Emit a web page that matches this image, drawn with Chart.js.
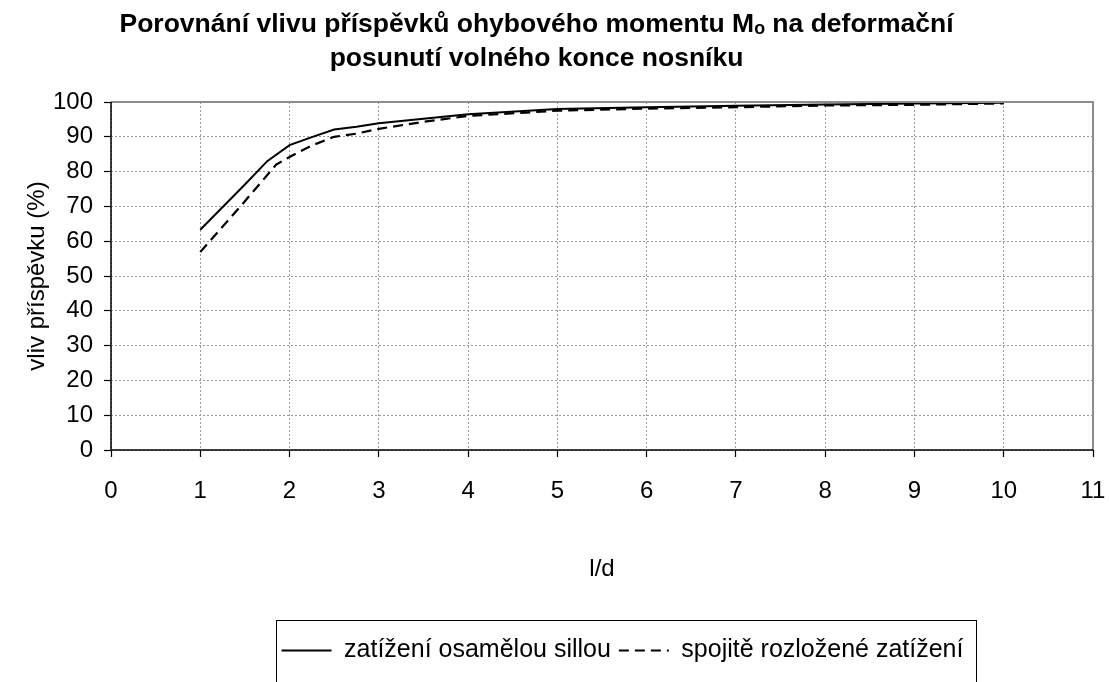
<!DOCTYPE html>
<html>
<head>
<meta charset="utf-8">
<script src="https://cdn.jsdelivr.net/npm/chart.js@4"></script>
<style>
html,body{margin:0;padding:0;background:#fff;}
#wrap{width:1109px;height:682px;}
</style>
</head>
<body>
<div id="wrap"><canvas id="c" width="1109" height="682"></canvas></div>
<script>
const titleLines = ['Porovnání vlivu příspěvků ohybového momentu Mₒ na deformační', 'posunutí volného konce nosníku'];
const xAxisTitle = 'l/d';
const yAxisTitle = 'vliv příspěvku (%)';
const seriesNames = ['zatížení osamělou sillou', 'spojitě rozložené zatížení'];

const solidX = [1, 1.5, 1.75, 2, 2.25, 2.5, 2.75, 3, 3.5, 4, 5, 6, 7, 8, 9, 10];
const solidY = [63.3, 76.3, 83.0, 87.6, 89.9, 92.1, 92.9, 93.9, 95.2, 96.5, 98.0, 98.5, 98.9, 99.3, 99.6, 99.8];
const dashedX = [1, 1.5, 1.85, 2, 2.25, 2.5, 2.75, 3, 3.5, 4, 5, 6, 7, 8, 9, 10];
const dashedY = [56.9, 71.5, 82.0, 84.2, 87.5, 90.0, 90.9, 92.3, 94.3, 96.0, 97.5, 98.1, 98.5, 99.0, 99.2, 99.6];
const dashPattern = [10, 6];

const xMin = 0, xMax = 11, xStep = 1;
const yMin = 0, yMax = 100, yStep = 10;

const FONT = "'Liberation Sans', Arial, 'DejaVu Sans', sans-serif";

const frame = {
  id: 'frame',
  afterLayout(chart) {
    if (chart.titleBlock) { chart.titleBlock.left -= 10; chart.titleBlock.right -= 10; }
    if (chart.legend) { chart.legend.left += 76; chart.legend.right += 76; }
  },
  afterDatasetsDraw(chart) {
    const {ctx, chartArea: a} = chart;
    ctx.save();
    ctx.setLineDash([]);
    ctx.lineWidth = 2;
    ctx.strokeStyle = '#8c8c8c';
    ctx.beginPath();
    ctx.moveTo(a.left, a.top); ctx.lineTo(a.right, a.top); ctx.lineTo(a.right, a.bottom);
    ctx.stroke();
    ctx.lineWidth = 1.5;
    ctx.strokeStyle = '#000';
    ctx.beginPath();
    ctx.moveTo(a.left, a.top); ctx.lineTo(a.left, a.bottom); ctx.lineTo(a.right, a.bottom);
    ctx.stroke();
    ctx.restore();
  },
  afterDraw(chart) {
    const lg = chart.legend;
    if (!lg || !lg.legendHitBoxes || !lg.legendHitBoxes.length) return;
    const hb = lg.legendHitBoxes;
    const l = Math.min(...hb.map(h => h.left)) - 6;
    const r = Math.max(...hb.map(h => h.left + h.width)) + 12;
    const cy = hb[0].top + hb[0].height / 2;
    const ctx = chart.ctx;
    ctx.save();
    ctx.setLineDash([]);
    ctx.lineWidth = 1;
    ctx.strokeStyle = '#000';
    ctx.strokeRect(Math.round(l) + 0.5, Math.round(cy - 31) + 0.5, Math.round(r - l), 80);
    ctx.restore();
  }
};

new Chart(document.getElementById('c'), {
  type: 'line',
  data: {
    datasets: [
      {
        label: seriesNames[0],
        data: solidX.map((x, i) => ({x, y: solidY[i]})),
        borderColor: '#000',
        backgroundColor: 'rgba(0,0,0,0)',
        borderWidth: 2,
        pointRadius: 0,
        pointStyle: 'line',
        tension: 0,
        fill: false
      },
      {
        label: seriesNames[1],
        data: dashedX.map((x, i) => ({x, y: dashedY[i]})),
        borderColor: '#000',
        backgroundColor: 'rgba(0,0,0,0)',
        borderWidth: 2.2,
        borderDash: dashPattern,
        pointRadius: 0,
        pointStyle: 'line',
        tension: 0,
        fill: false
      }
    ]
  },
  options: {
    responsive: false,
    animation: false,
    events: [],
    layout: { padding: { left: 0, right: 16, top: 0, bottom: 9 } },
    plugins: {
      title: {
        display: true,
        text: titleLines,
        color: '#000',
        font: { family: FONT, size: 26.5, weight: 'bold', lineHeight: 34 / 26.5 },
        padding: { top: 8, bottom: 26 }
      },
      legend: {
        display: true,
        position: 'bottom',
        labels: {
          color: '#000',
          font: { family: FONT, size: 25 },
          usePointStyle: true,
          pointStyle: 'line',
          pointStyleWidth: 50,
          boxHeight: 25,
          padding: 8,
          generateLabels(chart) {
            const items = Chart.defaults.plugins.legend.labels.generateLabels(chart);
            items.forEach(it => {
              const ds = chart.data.datasets[it.datasetIndex];
              it.lineDash = ds.borderDash || [];
              it.lineWidth = 2;
              it.strokeStyle = '#000';
            });
            return items;
          }
        }
      },
      tooltip: { enabled: false }
    },
    scales: {
      x: {
        type: 'linear',
        min: xMin, max: xMax,
        afterFit(s) { s.height = 180; s.paddingRight = 12; },
        ticks: { stepSize: xStep, color: '#000', font: { family: FONT, size: 24 }, padding: 20, maxRotation: 0 },
        grid: { color: '#9a9a9a', lineWidth: 1, tickColor: '#000', tickLength: 7, tickBorderDash: [], tickWidth: 1.2 },
        border: { display: false, dash: [2, 2] },
        title: { display: true, text: xAxisTitle, color: '#000', font: { family: FONT, size: 24 }, padding: { top: 0, bottom: 46 } }
      },
      y: {
        min: yMin, max: yMax,
        afterFit(s) { s.width = 111; },
        ticks: { stepSize: yStep, color: '#000', font: { family: FONT, size: 24 }, padding: 11 },
        grid: { color: '#9a9a9a', lineWidth: 1, tickColor: '#000', tickLength: 7, tickBorderDash: [], tickWidth: 1.2 },
        border: { display: false, dash: [2, 2] },
        title: { display: true, text: yAxisTitle, color: '#000', font: { family: FONT, size: 24 }, padding: { top: 23, bottom: 0 } }
      }
    }
  },
  plugins: [frame]
});
</script>
</body>
</html>
